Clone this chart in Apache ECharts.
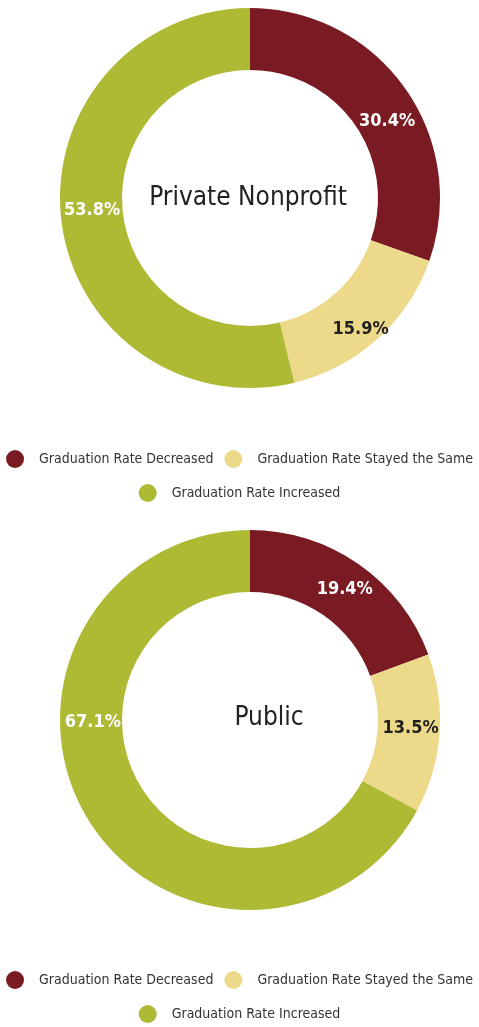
<!DOCTYPE html>
<html>
<head>
<meta charset="utf-8">
<script src="https://cdn.jsdelivr.net/npm/echarts@6/dist/echarts.min.js"></script>
<style>
  html, body { margin: 0; padding: 0; background: #fff; }
  #chart { width: 479px; height: 1027px; }
</style>
</head>
<body>
<div id="chart"></div>
<script>
// categories + values
const categories = ['Graduation Rate Decreased', 'Graduation Rate Stayed the Same', 'Graduation Rate Increased'];
const privateValues = [30.4, 15.9, 53.8];
const publicValues = [19.4, 13.5, 67.1];
const groupNames = ['Private Nonprofit', 'Public'];

const colors = ['#7a1b23', '#ecd98a', '#aeb934'];
const labelColors = ['#fff', '#1f1f1f', '#fff'];
const FONT = '"Liberation Sans Narrow", "DejaVu Sans Condensed", sans-serif';

const toData = values =>
  values.map((v, i) => ({
    name: categories[i],
    value: v,
    itemStyle: { color: colors[i] },
    label: { color: labelColors[i] }
  }));

const pie = (values, center, nudge) => ({
  type: 'pie',
  center: center,
  radius: [128, 190],
  startAngle: 90,
  clockwise: true,
  avoidLabelOverlap: false,
  silent: true,
  label: {
    position: 'inside',
    formatter: p => p.value.toFixed(1) + '%',
    fontFamily: FONT,
    fontWeight: 'bold',
    fontSize: 18
  },
  labelLine: { show: false },
  labelLayout: p => nudge[p.dataIndex] || {},
  data: toData(values)
});

const legendText = { fontFamily: FONT, fontSize: 14, color: '#333', padding: [0, 0, 0, 10] };

const legendRows = top => [
  {
    top: top,
    left: 'center',
    data: categories.slice(0, 2),
    icon: 'circle',
    itemWidth: 18,
    itemHeight: 18,
    itemGap: 11,
    textStyle: legendText
  },
  {
    top: top + 34,
    left: 'center',
    data: categories.slice(2),
    icon: 'circle',
    itemWidth: 18,
    itemHeight: 18,
    textStyle: legendText
  }
];

const chart = echarts.init(document.getElementById('chart'));
chart.setOption({
  animation: false,
  color: colors,
  legend: [...legendRows(445), ...legendRows(966)],
  graphic: [
    {
      type: 'text', x: 248, y: 198,
      style: { text: groupNames[0], font: '26px ' + FONT, fill: '#222', align: 'center', verticalAlign: 'middle' }
    },
    {
      type: 'text', x: 269, y: 718,
      style: { text: groupNames[1], font: '26px ' + FONT, fill: '#222', align: 'center', verticalAlign: 'middle' }
    }
  ],
  series: [
    pie(privateValues, [250, 198], { 0: { dx: 5, dy: 17 }, 1: { dx: 2, dy: 11 }, 2: { dx: 3, dy: -7 } }),
    pie(publicValues, [250, 720], { 0: { dx: 2, dy: 2 }, 1: { dx: -1, dy: -3 }, 2: { dx: -18, dy: -81 } })
  ]
});
</script>
</body>
</html>
